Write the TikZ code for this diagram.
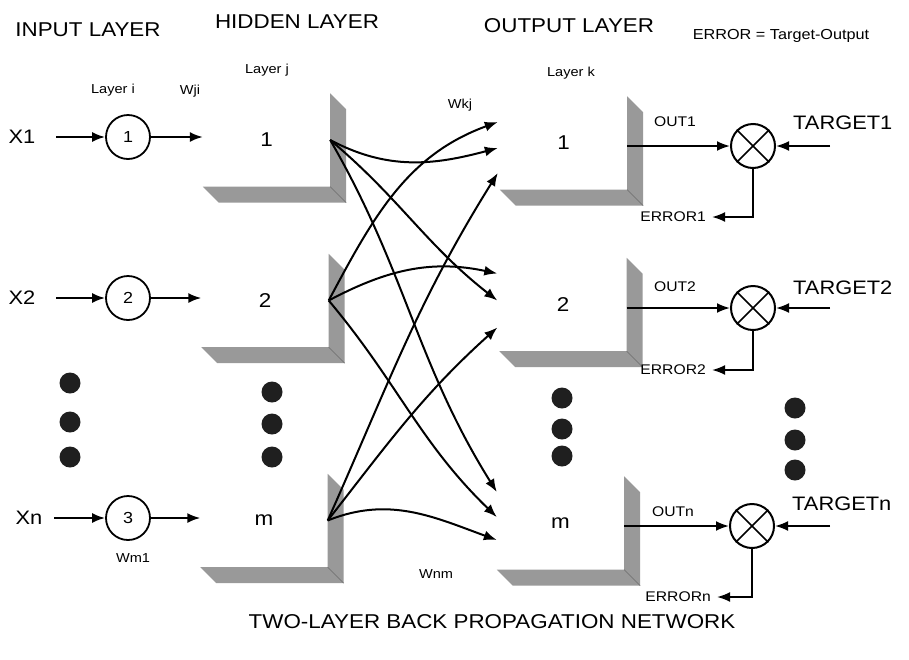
\documentclass[tikz,border=0pt]{standalone}
\usepackage{fontspec}
\setmainfont[FakeStretch=1.12]{Liberation Sans}
\usetikzlibrary{arrows.meta,calc}
\definecolor{shadowcol}{gray}{0.6}
\definecolor{shadowedge}{gray}{0.42}
\newcommand\boxshadow[1]{%
  \fill[shadowcol] (#1.north east) -- ++(16,-16) -- ($(#1.south east)+(16,-16)$)
    -- ($(#1.south west)+(16,-16)$) -- (#1.south west) -- (#1.south east) -- cycle;
  \draw[shadowedge,line width=0.6pt] (#1.south east) -- ++(16,-16);}
\begin{document}
\begin{tikzpicture}[x=1pt,y=1pt,
  titletxt/.style={font=\fontsize{20}{24}\selectfont, inner sep=0pt},
  smalltxt/.style={font=\fontsize{13}{15}\selectfont, inner sep=0pt},
  medtxt/.style={font=\fontsize{14}{16}\selectfont, inner sep=0pt},
  bigtxt/.style={font=\fontsize{19.5}{22}\selectfont, inner sep=0pt},
  arr/.style={line width=2pt, -{Latex[length=13pt,width=10pt]}},
  incirc/.style={circle, draw, line width=1.8pt, minimum size=44pt, inner sep=0pt, font=\fontsize{16}{18}\selectfont},
  sumcirc/.style={circle, draw, line width=2pt, minimum size=44pt, inner sep=0pt},
  face/.style={rectangle, fill=white, minimum width=127pt, minimum height=93pt, inner sep=0pt, font=\fontsize{20}{22}\selectfont},
  bigdot/.style={circle, fill=black!88, minimum size=21pt, inner sep=0pt}]
\fill[white] (0,0) rectangle (909,-659);
\useasboundingbox (0,0) rectangle (909,-659);

% titles
\node[titletxt] (tin) at (88,-30) {INPUT LAYER};
\node[titletxt] (thid) at (297,-22) {HIDDEN LAYER};
\node[titletxt] (tout) at (569,-26) {OUTPUT LAYER};
\node[font=\fontsize{14.5}{16}\selectfont, inner sep=0pt] (terr) at (781,-36) {ERROR = Target-Output};
\node[titletxt] (tbot) at (492,-622) {TWO-LAYER BACK PROPAGATION NETWORK};

\node[smalltxt] (lj) at (267,-70) {Layer j};
\node[smalltxt] (lk) at (571,-73) {Layer k};
\node[smalltxt] (li) at (113,-90) {Layer i};
\node[smalltxt] (wji) at (190,-91) {Wji};
\node[smalltxt] (wkj) at (460,-105) {Wkj};
\node[smalltxt] (wm1) at (133,-558) {Wm1};
\node[smalltxt] (wnm) at (436,-574) {Wnm};

% boxes
\node[face] (h1) at (266.5,-140) {1};
\node[face] (h2) at (265,-300.5) {2};
\node[face] (hm) at (264,-520.5) {m};
\node[face] (o1) at (563.5,-143) {1};
\node[face] (o2) at (563,-304.5) {2};
\node[face] (om) at (560.5,-523) {m};
\boxshadow{h1}\boxshadow{h2}\boxshadow{hm}
\boxshadow{o1}\boxshadow{o2}\boxshadow{om}

% inputs
\node[bigtxt] (x1) at (22,-137) {X1};
\node[bigtxt] (x2) at (22,-298) {X2};
\node[bigtxt] (xn) at (29,-518) {Xn};
\node[incirc] (c1) at (128,-137) {1};
\node[incirc] (c2) at (128,-298) {2};
\node[incirc] (c3) at (128,-518) {3};
\coordinate (a1) at (56,-137);
\coordinate (a2) at (56,-298);
\coordinate (a3) at (54,-518);
\draw[arr] (a1) -- (c1.west);
\draw[arr] (a2) -- (c2.west);
\draw[arr] (a3) -- (c3.west);
\draw[arr] (c1.east) -- (c1.east -| h1.west);
\draw[arr] (c2.east) -- (c2.east -| h2.west);
\draw[arr] (c3.east) -- (c3.east -| hm.west);

% dots
\foreach \y [count=\i] in {383,422,457} \node[bigdot] (dl\i) at (70,-\y) {};
\foreach \y [count=\i] in {392,424,457} \node[bigdot] (dh\i) at (272,-\y) {};
\foreach \y [count=\i] in {398,429,456} \node[bigdot] (do\i) at (562,-\y) {};
\foreach \y [count=\i] in {408,440,470} \node[bigdot] (dr\i) at (795,-\y) {};

% target points on output boxes
\coordinate (o1a) at ($(o1.west)+(-2,21)$);
\coordinate (o1b) at ($(o1.west)+(-2,-5)$);
\coordinate (o1c) at ($(o1.west)+(-2,-30)$);
\coordinate (o2a) at ($(o2.west)+(-2,31)$);
\coordinate (o2b) at ($(o2.west)+(-2,4)$);
\coordinate (o2c) at ($(o2.west)+(-2,-23)$);
\coordinate (oma) at ($(om.west)+(0,31)$);
\coordinate (omb) at ($(om.west)+(0,6)$);
\coordinate (omc) at ($(om.west)+(0,-17)$);

% hidden -> output
\draw[arr] (h1.east) to[out=-28, in=195] (o1b);
\draw[arr] (h1.east) to[out=-40, in=142] (o2b);
\draw[arr] (h1.east) to[out=-60, in=122] (oma);
\draw[arr] (h2.east) to[out=62, in=200] (o1a);
\draw[arr] (h2.east) to[out=28, in=168] (o2a);
\draw[arr] (h2.east) to[out=-50, in=136] (omb);
\draw[arr] (hm.east) to[out=66, in=238] (o1c);
\draw[arr] (hm.east) to[out=52, in=222] (o2c);
\draw[arr] (hm.east) to[out=22, in=160] (omc);

% sum circles
\node[sumcirc] (s1) at (753,-146) {};
\node[sumcirc] (s2) at (753,-308) {};
\node[sumcirc] (sm) at (752,-526) {};
\foreach \s in {s1,s2,sm}{
  \draw[line width=1.7pt] (\s.north east) -- (\s.south west);
  \draw[line width=1.7pt] (\s.north west) -- (\s.south east);}

\draw[arr] (s1.west -| o1.east) -- (s1.west);
\draw[arr] (s2.west -| o2.east) -- (s2.west);
\draw[arr] (sm.west -| om.east) -- (sm.west);

\coordinate (t1) at (830,-146);
\coordinate (t2) at (830,-308);
\coordinate (t3) at (830,-526);
\draw[arr] (t1) -- (s1.east);
\draw[arr] (t2) -- (s2.east);
\draw[arr] (t3) -- (sm.east);

\coordinate (e1) at (712,-217);
\coordinate (e2) at (712,-370);
\coordinate (e3) at (717,-597);
\draw[arr] (s1.south) |- (e1);
\draw[arr] (s2.south) |- (e2);
\draw[arr] (sm.south) |- (e3);

% labels at outputs
\node[medtxt] (out1) at (675,-122) {OUT1};
\node[medtxt] (out2) at (675,-287) {OUT2};
\node[medtxt] (outn) at (673,-512) {OUTn};
\node[bigtxt, anchor=west] (tg1) at (793,-123) {TARGET1};
\node[bigtxt, anchor=west] (tg2) at (793,-288) {TARGET2};
\node[bigtxt, anchor=west] (tgn) at (792,-504) {TARGETn};
\node[medtxt, anchor=east] (er1) at (706,-217) {ERROR1};
\node[medtxt, anchor=east] (er2) at (706,-370) {ERROR2};
\node[medtxt, anchor=east] (ern) at (711,-597) {ERRORn};
\end{tikzpicture}
\end{document}
